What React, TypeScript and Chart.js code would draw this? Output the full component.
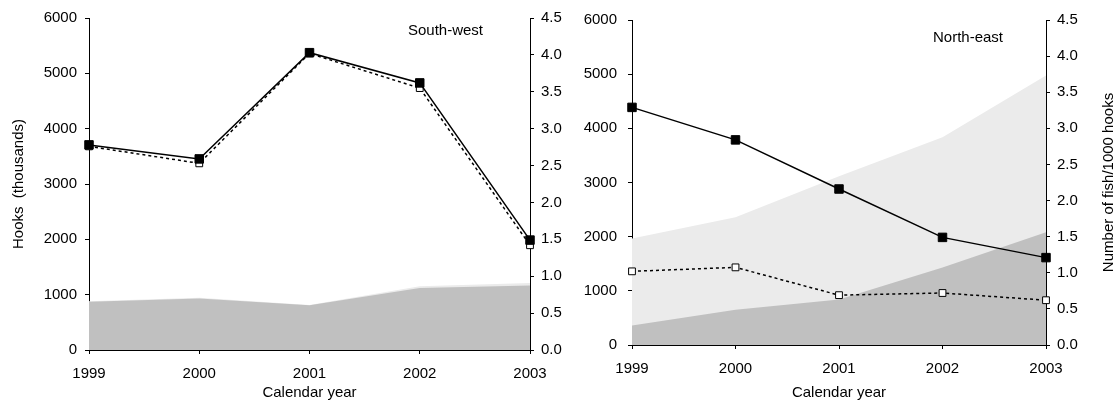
import React, { useEffect, useRef } from 'react';
import { Chart, registerables } from 'chart.js';

Chart.register(...registerables);

// ---------- data ----------
const years = ['1999', '2000', '2001', '2002', '2003'];

// South-west panel
const swHooksDark = [870, 930, 810, 1120, 1165];
const swHooksTotal = [882, 945, 815, 1150, 1210];
const swCpueSolid = [2.78, 2.59, 4.03, 3.62, 1.49];
const swCpueOpen = [2.76, 2.53, 4.02, 3.55, 1.42];

// North-east panel
const neHooksDark = [360, 650, 840, 1430, 2080];
const neHooksTotal = [1965, 2360, 3115, 3835, 4975];
const neCpueSolid = [3.29, 2.84, 2.16, 1.49, 1.21];
const neCpueOpen = [1.02, 1.075, 0.69, 0.72, 0.62];

const hooksTicksMax = 6000;
const hooksStep = 1000;
const cpueMax = 4.5;
const cpueStep = 0.5;

const FONT = "'Liberation Sans', Arial, Helvetica, sans-serif";

type PanelProps = {
  left: number;
  width: number;
  height: number;
  hooksDark: number[];
  hooksTotal: number[];
  cpueSolid: number[];
  cpueOpen: number[];
  label: string;
  labelDx: number;
  labelDy: number;
  leftWidth: number;
  rightWidth: number;
  top: number;
  bottomHeight: number;
  leftTitle: string;
  rightTitle: string;
  leftTitlePad: number;
  rightTitleDx: number;
  leftTickPad: number;
  xTickPad: number;
};

function Panel(p: PanelProps) {
  const ref = useRef<HTMLCanvasElement>(null);
  useEffect(() => {
    if (!ref.current) return;
    const labelPlugin = {
      id: 'panelLabel',
      afterDraw(chart: any) {
        const { ctx, chartArea } = chart;
        ctx.save();
        ctx.font = `15px ${FONT}`;
        ctx.fillStyle = '#000';
        ctx.textAlign = 'right';
        ctx.textBaseline = 'middle';
        ctx.fillText(p.label, chartArea.right - p.labelDx, chartArea.top + p.labelDy);
        if (p.rightTitle) {
          ctx.translate(chart.width - p.rightTitleDx, (chartArea.top + chartArea.bottom) / 2);
          ctx.rotate(-Math.PI / 2);
          ctx.textAlign = 'center';
          ctx.fillText(p.rightTitle, 0, 0);
        }
        ctx.restore();
      },
    };
    const chart = new Chart(ref.current, {
      type: 'line',
      data: {
        labels: years,
        datasets: [
          {
            data: p.cpueSolid,
            yAxisID: 'y1',
            borderColor: '#000',
            borderWidth: 1.5,
            pointStyle: 'rect',
            pointRadius: 6,
            pointBackgroundColor: '#000',
            pointBorderColor: '#000',
            pointBorderWidth: 1,
            fill: false,
            order: 0,
            clip: false,
          } as any,
          {
            data: p.cpueOpen,
            yAxisID: 'y1',
            borderColor: '#000',
            borderWidth: 1.5,
            borderDash: [3, 3],
            pointStyle: 'rect',
            pointRadius: 4.8,
            pointBackgroundColor: '#fff',
            pointBorderColor: '#000',
            pointBorderWidth: 1,
            fill: false,
            order: 1,
            clip: false,
          } as any,
          {
            data: p.hooksDark,
            yAxisID: 'y',
            borderColor: 'rgba(0,0,0,0)',
            borderWidth: 0,
            pointRadius: 0,
            backgroundColor: '#c0c0c0',
            fill: 'origin',
            order: 2,
          } as any,
          {
            data: p.hooksTotal,
            yAxisID: 'y',
            borderColor: 'rgba(0,0,0,0)',
            borderWidth: 0,
            pointRadius: 0,
            backgroundColor: '#ebebeb',
            fill: 'origin',
            order: 3,
          } as any,
        ],
      },
      options: {
        animation: false,
        responsive: false,
        devicePixelRatio: 1,
        layout: { padding: { top: p.top, left: 0, right: 0, bottom: 0 } },
        plugins: { legend: { display: false }, tooltip: { enabled: false } },
        elements: { line: { tension: 0 } },
        scales: {
          x: {
            type: 'category',
            offset: false,
            grid: { display: true, drawOnChartArea: false, drawTicks: true, tickLength: 4, color: '#000', lineWidth: 1 },
            border: { display: true, color: '#000', width: 1 },
            ticks: { color: '#000', font: { size: 15, family: FONT }, padding: p.xTickPad, maxRotation: 0, autoSkip: false },
            title: { display: true, text: 'Calendar year', color: '#000', font: { size: 15, family: FONT }, padding: { top: 0, bottom: 8 } },
            afterFit: (s: any) => { s.height = p.bottomHeight; },
          },
          y: {
            position: 'left',
            min: 0,
            max: hooksTicksMax,
            grid: { display: true, drawOnChartArea: false, drawTicks: true, tickLength: 4, color: '#000', lineWidth: 1 },
            border: { display: true, color: '#000', width: 1 },
            ticks: { stepSize: hooksStep, color: '#000', font: { size: 15, family: FONT }, padding: p.leftTickPad, callback: (v: any) => String(v) },
            title: { display: p.leftTitle !== '', text: p.leftTitle, color: '#000', font: { size: 15, family: FONT }, padding: { top: p.leftTitlePad, bottom: 0 } },
            afterFit: (s: any) => { s.width = p.leftWidth; },
          },
          y1: {
            position: 'right',
            min: 0,
            max: cpueMax,
            grid: { display: true, drawOnChartArea: false, drawTicks: true, tickLength: 4, color: '#000', lineWidth: 1 },
            border: { display: true, color: '#000', width: 1 },
            ticks: { stepSize: cpueStep, color: '#000', font: { size: 15, family: FONT }, padding: 7, callback: (v: any) => Number(v).toFixed(1) },
            title: { display: false },
            afterFit: (s: any) => { s.width = p.rightWidth; },
          },
        },
      } as any,
      plugins: [labelPlugin],
    });
    return () => chart.destroy();
  }, []);
  return (
    <canvas
      ref={ref}
      width={p.width}
      height={p.height}
      style={{ position: 'absolute', left: p.left, top: 0, width: p.width, height: p.height }}
    />
  );
}

export default function App() {
  return (
    <div style={{ position: 'absolute', left: 0, top: 0, width: 1119, height: 410, background: '#fff', overflow: 'hidden' }}>
      <Panel
        left={0}
        width={575}
        height={410}
        hooksDark={swHooksDark}
        hooksTotal={swHooksTotal}
        cpueSolid={swCpueSolid}
        cpueOpen={swCpueOpen}
        label="South-west"
        labelDx={47}
        labelDy={13}
        leftWidth={89}
        rightWidth={45}
        top={18}
        bottomHeight={60}
        leftTitle="Hooks  (thousands)"
        rightTitle=""
        leftTitlePad={10}
        rightTitleDx={10}
        leftTickPad={8}
        xTickPad={11}
      />
      <Panel
        left={570}
        width={549}
        height={410}
        hooksDark={neHooksDark}
        hooksTotal={neHooksTotal}
        cpueSolid={neCpueSolid}
        cpueOpen={neCpueOpen}
        label="North-east"
        labelDx={43}
        labelDy={18}
        leftWidth={62}
        rightWidth={73}
        top={15}
        bottomHeight={65}
        leftTitle=""
        rightTitle="Number of fish/1000 hooks"
        leftTitlePad={9}
        rightTitleDx={10}
        leftTickPad={11}
        xTickPad={11}
      />
    </div>
  );
}
